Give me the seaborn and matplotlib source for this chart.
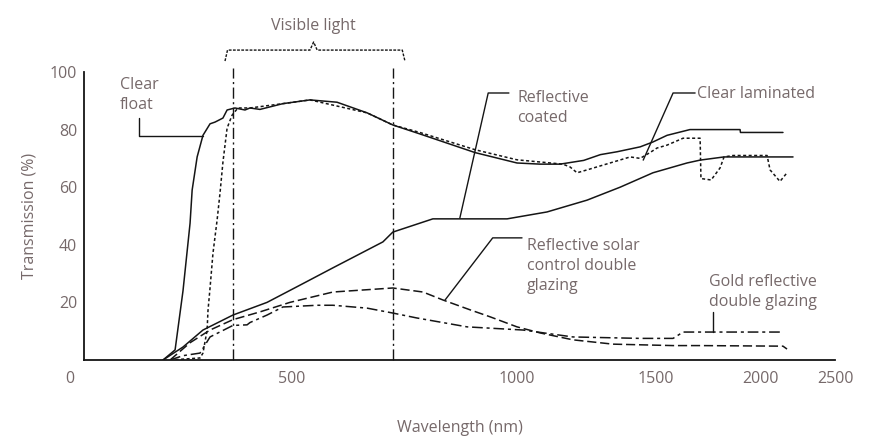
import numpy as np
import pandas as pd
import matplotlib
matplotlib.use("Agg")
import matplotlib.pyplot as plt
import matplotlib.transforms as mtransforms
import seaborn as sns

# transmission curves (wavelength nm, transmission %)
clear_float_nm = [190, 219, 238, 255, 260, 272, 286, 303, 315, 334, 344, 363, 387, 399, 423, 478, 540, 600, 667, 724,
                  784, 907, 1000, 1083, 1155, 1240, 1300, 1360, 1443, 1489, 1553, 1663, 1904, 1906, 2153]
clear_float_t = [0, 3.5, 24, 47.5, 59, 70.5, 78, 82, 82.6, 84, 86.8, 87.5, 86.8, 87.5, 87, 89, 90.3, 89.5, 85.8, 81.6,
                 78.5, 72, 68.4, 68, 68, 69.3, 71.3, 72.3, 74, 75.7, 78, 80, 80, 79, 79]

clear_lam_nm = [207, 279, 286, 296, 298, 303, 310, 320, 327, 334, 344, 356, 370, 399, 478, 540, 667, 724,
                784, 907, 1000, 1165, 1191, 1216, 1252, 1407, 1443, 1478, 1505, 1553, 1630, 1712, 1716,
                1765, 1808, 1827, 1870, 2047, 2067, 2133, 2180]
clear_lam_t = [0, 0.7, 2.4, 10.4, 17, 25, 37, 48.6, 58, 68.7, 80.5, 85, 87.5, 87.5, 89, 90.3, 85.8, 81.6,
               79, 73, 69.5, 68, 67, 65, 66, 70.5, 70, 72, 73.6, 74.6, 77, 77, 63,
               62.5, 66.7, 70.5, 71, 71, 66, 62, 65]

refl_coated_nm = [190, 238, 286, 358, 440, 518, 591, 702, 724, 813, 978, 1108, 1252, 1371, 1489, 1649, 1712, 1827, 2220]
refl_coated_t = [0, 4.5, 10.4, 15.6, 20, 26, 32, 41, 44.4, 49, 49, 51.4, 55.5, 60, 65, 68.4, 69.4, 70.5, 70.5]

solar_ctrl_nm = [207, 255, 303, 358, 423, 495, 591, 724, 791, 836, 896, 940, 1000, 1083, 1201, 1345, 1582, 1712, 2153, 2180]
solar_ctrl_t = [0, 6, 10.4, 14, 16.7, 20, 23.6, 25, 23.6, 20.8, 17.4, 15, 11.5, 9.4, 7, 5.5, 5, 5, 4.8, 3.8]

gold_nm = [207, 238, 279, 303, 358, 392, 399, 440, 478, 556, 591, 667, 724, 777, 889, 1022, 1201, 1443, 1582, 1630, 2153]
gold_t = [0, 1.5, 2.4, 8, 12, 12.2, 13, 15.6, 18.4, 19, 19, 18, 16.3, 14.6, 11.5, 10.4, 8, 7.5, 7.5, 9.7, 9.7]

visible_nm = [358, 724]

# the printed wavelength axis is not linear: tick label -> relative position
tick_nm = [0, 500, 1000, 1500, 2000, 2500]
tick_pos = [0, 208, 433, 572, 676, 751]

series = {
    "Clear float": (clear_float_nm, clear_float_t),
    "Clear laminated": (clear_lam_nm, clear_lam_t),
    "Reflective coated": (refl_coated_nm, refl_coated_t),
    "Reflective solar control": (solar_ctrl_nm, solar_ctrl_t),
    "Gold reflective": (gold_nm, gold_t),
}
rows = []
for name, (xs, ys) in series.items():
    for x, y in zip(xs, ys):
        rows.append((name, x, y))
df = pd.DataFrame(rows, columns=["glass", "wavelength", "transmission"])

sns.set_style("white")
plt.rcParams["font.family"] = ["Open Sans", "DejaVu Sans"]
txt = "#76696a"
ink = "#151515"

fig = plt.figure(figsize=(8.73, 4.41), dpi=100)
ax = fig.add_axes([0.0962, 0.1837, 0.8603, 0.6531])


def fwd(x):
    return np.interp(x, tick_nm, tick_pos)


def inv(p):
    return np.interp(p, tick_pos, tick_nm)


ax.set_xscale("function", functions=(fwd, inv))

dashes = {
    "Clear float": "",
    "Clear laminated": (2, 1.6),
    "Reflective coated": "",
    "Reflective solar control": (6, 2.5),
    "Gold reflective": (7, 2.5, 2, 2.5),
}
sns.lineplot(data=df, x="wavelength", y="transmission", style="glass", dashes=dashes,
             color=ink, estimator=None, sort=False, legend=False, lw=1.1, ax=ax)

# visible light band
for v in visible_nm:
    ax.plot([v, v], [0, 101.5], color=ink, lw=1.0, ls=(0, (8, 2.5, 1.5, 2.5)), clip_on=False)
ax.plot([339, 345, 540, 548, 556, 745, 751], [103.8, 107.6, 107.6, 110.4, 107.6, 107.6, 103.8],
        color=ink, lw=1.0, ls=(0, (2, 1)), clip_on=False)
ax.text(548, 116, "Visible light", ha="center", va="center", color=txt, fontsize=11.5)

# labels with leader lines
lead = dict(color=ink, lw=1.0, clip_on=False)
ax.text(87, 92, "Clear\nfloat", ha="left", va="center", color=txt, fontsize=11.5, linespacing=1.35)
ax.plot([132, 132, 286], [84, 77.8, 77.8], **lead)
ax.text(1000, 87.5, "Reflective\ncoated", ha="left", va="center", color=txt, fontsize=11.5, linespacing=1.35)
ax.plot([982, 936, 873], [92.7, 92.7, 49.3], **lead)
ax.text(1697, 92.5, "Clear laminated", ha="left", va="center", color=txt, fontsize=11.5)
ax.plot([1688, 1582, 1454], [92.7, 92.7, 69.4], **lead)
ax.text(1036, 32.6, "Reflective solar\ncontrol double\nglazing", ha="left", va="center", color=txt,
        fontsize=11.5, linespacing=1.35)
ax.plot([1018, 946, 840], [42.4, 42.4, 20.8], **lead)
ax.text(1755, 23.5, "Gold reflective\ndouble glazing", ha="left", va="center", color=txt,
        fontsize=11.5, linespacing=1.35)
ax.plot([1774, 1774], [16.7, 9.7], **lead)

ax.set_xlim(0, 2500)
ax.set_ylim(0, 100)
ax.set_xticks(tick_nm)
ax.set_xticklabels([str(t) for t in tick_nm])
ax.set_yticks([20, 40, 60, 80, 100])
ax.tick_params(axis="x", direction="in", length=6, width=1, color=ink, labelcolor=txt, labelsize=11.5, pad=8)
ax.tick_params(axis="y", direction="in", length=10, width=1, color=ink, labelcolor=txt, labelsize=11.5, pad=5)
# the "0" sits a little left of the origin in the original
zero = ax.get_xticklabels()[0]
zero.set_transform(zero.get_transform() + mtransforms.ScaledTranslation(-10 / 72, 0, fig.dpi_scale_trans))
for s in ["top", "right"]:
    ax.spines[s].set_visible(False)
for s in ["left", "bottom"]:
    ax.spines[s].set_color(ink)
    ax.spines[s].set_linewidth(1.3)

ax.set_xlabel("Wavelength (nm)", color=txt, fontsize=11.5)
ax.set_ylabel("Transmission (%)", color=txt, fontsize=11.5)
ax.xaxis.set_label_coords(0.5, -0.21)
ax.yaxis.set_label_coords(-0.062, 0.5)

fig.savefig("out.png", dpi=100)
